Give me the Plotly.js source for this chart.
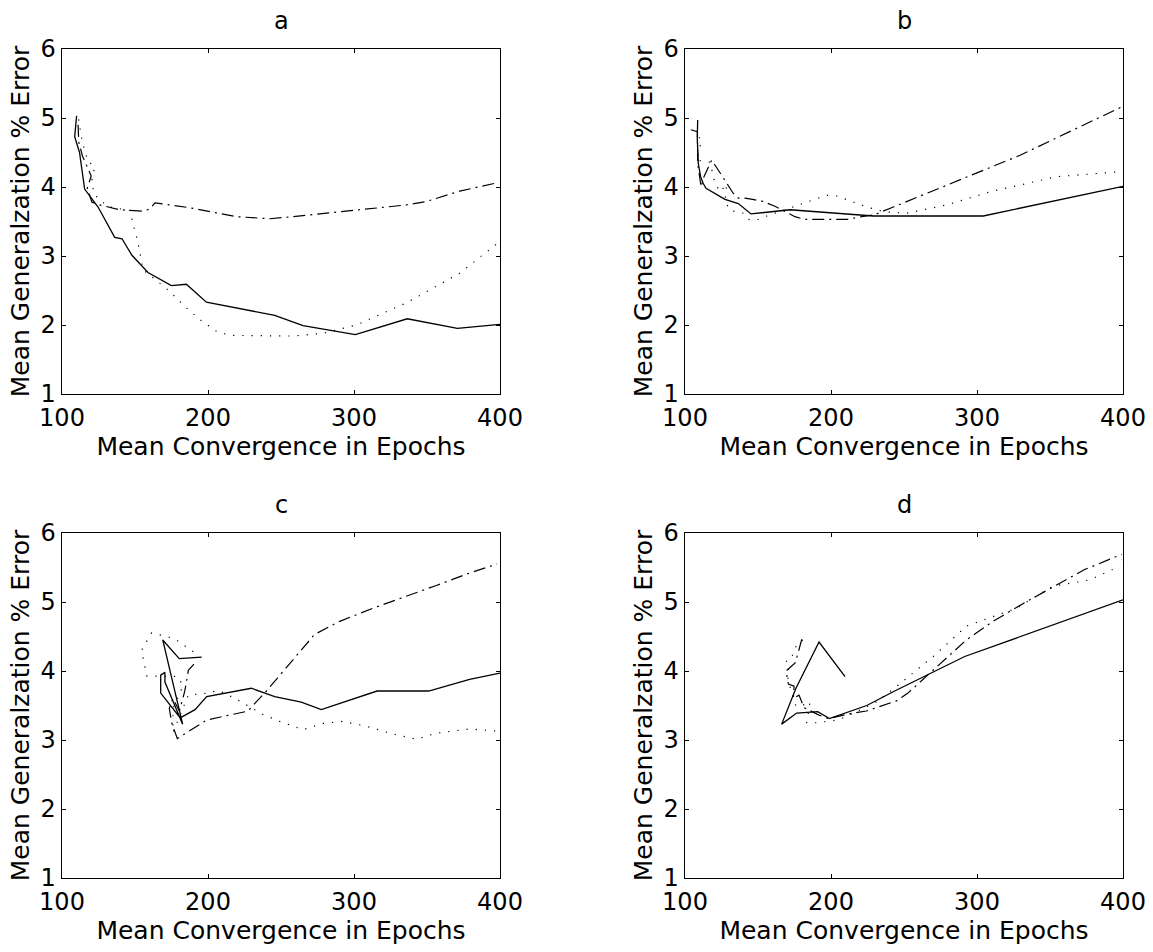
<!DOCTYPE html>
<html>
<head>
<meta charset="utf-8">
<script src="https://cdn.plot.ly/plotly-3.0.1.min.js"></script>
<style>html,body{margin:0;padding:0;background:#fff;}#chart{width:1153px;height:952px;}</style>
</head>
<body>
<div id="chart"></div>
<script>
// ---- data ----
var panelTitles = ['a', 'b', 'c', 'd'];
var xTickVals = [100, 200, 300, 400];
var yTickVals = [1, 2, 3, 4, 5, 6];
var xTitle = 'Mean Convergence in Epochs';
var yTitle = 'Mean Generalzation % Error';

// panel a
var aSolidX = [110, 108.7, 112, 115.5, 124.7, 136.1, 141.1, 147.9, 158.9, 174.9, 185.2, 198.9, 245.7, 265.1, 300.9, 336.5, 370.8, 400];
var aSolidY = [5.03, 4.73, 4.5, 3.97, 3.71, 3.27, 3.25, 3.01, 2.76, 2.57, 2.59, 2.33, 2.14, 1.99, 1.86, 2.09, 1.95, 2.01];
var aDotX = [111.4, 113.7, 117.8, 122.4, 120.5, 121.7, 125.8, 132.6, 146.3, 152.1, 155.5, 173.7, 184, 194.3, 205.7, 214.8, 258.2, 278.8, 301.6, 335.8, 372.4, 398];
var aDotY = [4.98, 4.67, 4.37, 4.30, 4.10, 3.91, 3.81, 3.71, 3.66, 3.19, 2.80, 2.49, 2.27, 2.08, 1.91, 1.85, 1.84, 1.88, 2.00, 2.32, 2.75, 3.18];
var aDashX = [111, 111.5, 114, 120, 117.3, 120.5, 125.8, 139.5, 155.3, 160, 163.7, 187.4, 219.4, 242.2, 258.2, 301.6, 335.8, 349.5, 372.4, 398];
var aDashY = [4.9, 4.65, 4.45, 4.16, 3.98, 3.78, 3.74, 3.67, 3.65, 3.68, 3.77, 3.70, 3.57, 3.54, 3.57, 3.66, 3.74, 3.79, 3.94, 4.06];

// panel b
var bSolidX = [108.7, 108.4, 109.1, 110.7, 112.5, 114.4, 127.4, 136.5, 145.2, 171.9, 229, 304.3, 400];
var bSolidY = [4.97, 4.71, 4.34, 4.15, 4.05, 3.98, 3.82, 3.76, 3.61, 3.67, 3.58, 3.58, 4.01];
var bDotX = [109.5, 111.4, 108, 117.1, 120.5, 124, 128.5, 127.4, 131, 140, 143.4, 149.1, 156, 169.6, 183.3, 197, 204, 210.7, 224.4, 237, 252, 279.2, 308.9, 354.6, 397];
var bDotY = [4.72, 4.68, 4.39, 4.36, 4.06, 3.93, 4.04, 3.79, 3.66, 3.62, 3.53, 3.52, 3.58, 3.68, 3.79, 3.88, 3.87, 3.82, 3.71, 3.64, 3.62, 3.74, 3.93, 4.15, 4.22];
var bDashX = [104, 108.5, 108.7, 111, 113, 118.3, 125.1, 133, 136.5, 141, 146.3, 153.6, 161.6, 175.3, 182, 211, 221, 230, 242.7, 329.5, 400];
var bDashY = [4.83, 4.8, 4.35, 4.0, 4.15, 4.39, 4.17, 3.91, 3.84, 3.84, 3.82, 3.79, 3.72, 3.57, 3.53, 3.53, 3.57, 3.6, 3.71, 4.46, 5.17];

// panel c
var cSolidX = [195.7, 180.3, 169, 182.6, 170.5, 170.5, 167.6, 167.6, 181, 191.1, 199.1, 229.7, 245.7, 263.9, 277.6, 315.8, 351.1, 379.2, 400];
var cSolidY = [4.20, 4.18, 4.45, 3.23, 3.84, 3.98, 3.94, 3.68, 3.32, 3.44, 3.63, 3.75, 3.63, 3.55, 3.44, 3.71, 3.71, 3.88, 3.97];
var cDotX = [189.9, 184, 177.6, 171.6, 161.3, 154.5, 158, 179, 183, 176, 176, 186.5, 200, 207, 219.6, 237.7, 249.1, 265, 278.8, 292.5, 308.4, 324.4, 342.7, 356.4, 379.2, 397];
var cDotY = [4.28, 4.37, 4.46, 4.50, 4.55, 4.30, 3.93, 3.92, 3.79, 3.46, 3.11, 3.65, 3.68, 3.72, 3.59, 3.37, 3.27, 3.15, 3.24, 3.27, 3.20, 3.10, 3.01, 3.10, 3.16, 3.13];
var cDashX = [190.4, 186.5, 186, 184, 180.4, 176, 173.5, 175.1, 179, 187.2, 199.1, 207.8, 221.9, 227.6, 229.9, 240, 273, 283.3, 290.2, 313, 335.8, 356.4, 379.2, 398];
var cDashY = [4.10, 4.01, 3.93, 3.70, 3.42, 3.60, 3.46, 3.25, 3.02, 3.13, 3.29, 3.33, 3.40, 3.42, 3.48, 3.71, 4.53, 4.65, 4.72, 4.91, 5.08, 5.24, 5.42, 5.55];

// panel d
var dSolidX = [209.6, 191.8, 176, 166.2, 176.5, 190.9, 198.9, 224.5, 243.6, 291.6, 400];
var dSolidY = [3.92, 4.42, 3.75, 3.23, 3.39, 3.41, 3.31, 3.50, 3.71, 4.21, 5.03];
var dDotX = [180.6, 176.5, 173.7, 169.2, 171.5, 170.1, 171.5, 176, 183.4, 185.6, 183.4, 190.2, 197.5, 204.3, 210.7, 224.4, 230.8, 242.2, 259.1, 270, 292.7, 327, 352, 377, 398];
var dDotY = [4.45, 4.38, 4.23, 4.15, 4.09, 3.94, 3.80, 3.49, 3.52, 3.55, 3.25, 3.25, 3.27, 3.29, 3.34, 3.48, 3.55, 3.73, 4.02, 4.21, 4.65, 4.91, 5.23, 5.32, 5.52];
var dDashX = [180, 175.6, 169.2, 170.8, 174.7, 174.2, 178.1, 181.5, 191.8, 198.2, 214.9, 224.2, 245.2, 252.7, 292.7, 311, 332.6, 353.2, 373.7, 399];
var dDashY = [4.46, 4.12, 4.0, 3.81, 3.78, 3.60, 3.65, 3.47, 3.36, 3.31, 3.39, 3.42, 3.57, 3.68, 4.45, 4.72, 4.99, 5.23, 5.47, 5.69];

// ---- figure ----
var W = 1153, H = 952;
var colDom = [[62 / W, 500 / W], [685 / W, 1123 / W]];
var rowDom = [[1 - 394 / H, 1 - 49 / H], [1 - 878 / H, 1 - 533 / H]];
var panels = [
  {s: [aSolidX, aSolidY], d: [aDotX, aDotY], dd: [aDashX, aDashY], col: 0, row: 0},
  {s: [bSolidX, bSolidY], d: [bDotX, bDotY], dd: [bDashX, bDashY], col: 1, row: 0},
  {s: [cSolidX, cSolidY], d: [cDotX, cDotY], dd: [cDashX, cDashY], col: 0, row: 1},
  {s: [dSolidX, dSolidY], d: [dDotX, dDotY], dd: [dDashX, dDashY], col: 1, row: 1}
];
var FONT = 'DejaVu Sans, Verdana, sans-serif';
var FS = 24;
var TFS = 25;
var traces = [];
var layout = {
  width: W, height: H,
  margin: {l: 0, r: 0, t: 0, b: 0},
  paper_bgcolor: '#fff', plot_bgcolor: '#fff',
  showlegend: false,
  font: {family: FONT, color: '#000', size: FS},
  annotations: []
};
panels.forEach(function (p, i) {
  var n = i === 0 ? '' : String(i + 1);
  var xa = 'x' + n, ya = 'y' + n;
  var lineCommon = {mode: 'lines', xaxis: xa, yaxis: ya, hoverinfo: 'skip', cliponaxis: true};
  traces.push(Object.assign({x: p.d[0], y: p.d[1], line: {color: '#000', width: 1.2, dash: '1.2px,8px'}}, lineCommon));
  traces.push(Object.assign({x: p.dd[0], y: p.dd[1], line: {color: '#000', width: 1.2, dash: '12px,5px,2px,5px'}}, lineCommon));
  traces.push(Object.assign({x: p.s[0], y: p.s[1], line: {color: '#000', width: 1.3}}, lineCommon));
  var axCommon = {
    showline: true, linecolor: '#000', linewidth: 1.3, mirror: 'ticks',
    ticks: 'inside', ticklen: 4, tickcolor: '#000', tickwidth: 1,
    showgrid: false, zeroline: false, fixedrange: true,
    tickfont: {family: FONT, size: FS, color: '#000'}
  };
  layout['xaxis' + n] = Object.assign({}, axCommon, {
    domain: colDom[p.col], anchor: ya, range: [100, 400],
    tickmode: 'array', tickvals: xTickVals, ticktext: xTickVals.map(String),
    ticklabelstandoff: 2,
    title: {text: xTitle, font: {family: FONT, size: TFS, color: '#000'}, standoff: 5}
  });
  layout['yaxis' + n] = Object.assign({}, axCommon, {
    domain: rowDom[p.row], anchor: xa, range: [1, 6],
    tickmode: 'array', tickvals: yTickVals, ticktext: yTickVals.map(String),
    title: {text: yTitle, font: {family: FONT, size: TFS, color: '#000'}, standoff: 4}
  });
  layout.annotations.push({
    text: panelTitles[i], xref: 'paper', yref: 'paper',
    x: (colDom[p.col][0] + colDom[p.col][1]) / 2,
    y: rowDom[p.row][1] + 28 / H,
    xanchor: 'center', yanchor: 'middle', showarrow: false,
    font: {family: FONT, size: FS, color: '#000'}
  });
});
Plotly.newPlot('chart', traces, layout, {staticPlot: true, displayModeBar: false});
</script>
</body>
</html>
